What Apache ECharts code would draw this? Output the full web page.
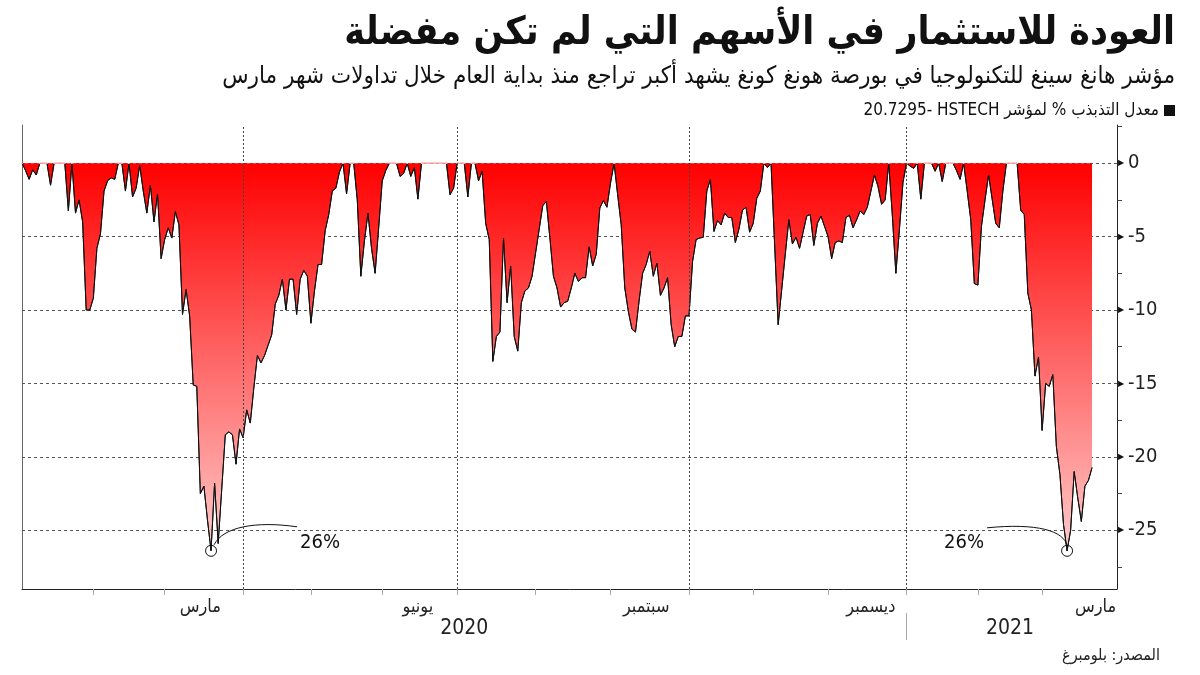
<!DOCTYPE html>
<html>
<head>
<meta charset="utf-8">
<script src="https://cdn.jsdelivr.net/npm/echarts@6/dist/echarts.min.js"></script>
<style>
html,body{margin:0;padding:0;background:#ffffff;}
#c{width:1200px;height:675px;}
</style>
</head>
<body>
<div id="c"></div>
<script>
// ---------------- texts ----------------
const titleText = 'العودة للاستثمار في الأسهم التي لم تكن مفضلة';
const subtitleText = 'مؤشر هانغ سينغ للتكنولوجيا في بورصة هونغ كونغ يشهد أكبر تراجع منذ بداية العام خلال تداولات شهر مارس';
const legendText = '20.7295- HSTECH معدل التذبذب % لمؤشر';
const sourceText = 'المصدر: بلومبرغ';

// ---------------- categories (Hong Kong trading days) ----------------
const firstDay = '2020-01-02';
const lastDay = '2021-03-30';
const holidays = ['2020-01-01','2020-01-27','2020-01-28','2020-04-10','2020-04-13','2020-04-30',
  '2020-05-01','2020-06-25','2020-07-01','2020-10-01','2020-10-02','2020-10-13','2020-10-26',
  '2020-12-25','2021-01-01','2021-02-12','2021-02-15'];

// ---------------- series values: drawdown from peak, % ----------------
const drawdown = [
  0, -0.5, -1.1, -0.45, -0.8, 0, 0, 0, -1.5, 0,
  0, 0, 0, -3.25, 0, -3.4, -2.5, -4.0, -10.0, -10.0,
  -9.2, -5.8, -4.8, -1.9, -1.2, -1.0, -1.1, 0, 0, -1.9,
  0, -2.3, -1.7, -0.15, -1.9, -3.4, -1.5, -4.0, -2.1, -6.5,
  -5.2, -4.4, -5.1, -3.3, -4.2, -10.3, -8.6, -10.4, -15.1, -15.2,
  -22.5, -22.0, -24.3, -26.4, -21.8, -25.9, -22.2, -18.5, -18.3, -18.5,
  -20.5, -18.1, -18.7, -16.8, -17.7, -15.3, -13.1, -13.6, -13.1, -12.4,
  -11.7, -9.6, -9.0, -7.9, -10.0, -7.9, -7.9, -10.3, -7.9, -7.3,
  -7.7, -10.9, -8.7, -6.9, -6.9, -4.6, -3.5, -1.9, -1.7, -0.6,
  0, -2.1, 0, 0, -2.5, -7.7, -5.3, -3.4, -5.8, -7.5,
  -4.4, -1.2, -0.5, 0, 0, 0, -0.9, -0.7, 0, -0.9,
  -0.3, -2.45, 0, 0, 0, 0, 0, 0, 0, 0,
  -2.15, -1.7, 0, 0, 0, -2.3, 0, 0, -1.2, -0.55,
  -4.1, -5.2, -13.5, -11.8, -11.5, -5.1, -9.5, -7.0, -11.8, -12.8,
  -9.5, -8.7, -8.5, -7.7, -6.1, -4.5, -2.9, -2.6, -5.1, -7.7,
  -8.5, -9.8, -9.5, -9.4, -8.5, -7.5, -8.05, -7.8, -7.8, -5.7,
  -7.0, -6.2, -3.05, -2.55, -3.0, -1.35, 0, -2.15, -4.2, -8.5,
  -10.1, -11.3, -11.5, -9.4, -7.5, -6.9, -6.0, -7.7, -6.8, -9.0,
  -8.5, -7.8, -11.0, -12.5, -11.8, -11.8, -10.4, -10.4, -6.7, -5.2,
  -5.1, -5.05, -1.9, -1.1, -4.65, -3.9, -4.2, -3.4, -3.7, -3.7,
  -5.4, -4.5, -3.2, -3.0, -4.7, -4.1, -2.4, -1.9, 0, -0.3,
  0, -5.5, -11.0, -8.6, -6.2, -3.85, -5.5, -5.05, -5.8, -4.7,
  -3.6, -3.5, -5.6, -4.1, -3.6, -4.3, -5.0, -6.5, -5.4, -5.3,
  -5.4, -3.7, -3.55, -4.4, -3.85, -3.25, -3.5, -3.0, -1.9, -0.8,
  -1.6, -2.8, -2.5, 0, -3.5, -7.5, -4.5, -1.3, 0, -0.2,
  -0.35, 0, -2.45, 0, 0, 0, -0.55, 0, -1.25, 0,
  0, 0, -0.5, -1.1, 0, -1.9, -3.85, -8.2, -8.3, -4.3,
  -2.5, -0.8, -2.45, -4.1, -4.4, -1.9, 0, 0, 0, 0,
  -3.2, -3.5, -8.85, -10.0, -14.5, -13.2, -18.2, -15.0, -15.2, -14.4,
  -19.3, -21.2, -24.6, -26.4, -25.0, -21.0, -22.8, -24.4, -22.0, -21.6,
  -20.7295
];

// ---------------- tick labels / annotations ----------------
const monthLabelDates = ['2020-03-16','2020-06-15','2020-09-15','2020-12-17','2021-03-22'];
const monthLabelTexts = ['مارس','يونيو','سبتمبر','ديسمبر','مارس'];
const yearLabelDates = ['2020-07-06','2021-02-16'];
const yearLabelTexts = ['2020','2021'];
const quarterStartDates = ['2020-04-01','2020-07-02','2020-10-05','2021-01-04'];
const yGridValues = [0, -5, -10, -15, -20, -25];
const lowDates = ['2020-03-19','2021-03-10'];
const lowLabels = ['26%','26%'];

// ---------------- build categories ----------------
const dates = [];
(function(){
  const hol = new Set(holidays);
  const p = s => { const a = s.split('-').map(Number); return Date.UTC(a[0], a[1]-1, a[2]); };
  const end = p(lastDay);
  for (let t = p(firstDay); t <= end; t += 86400000) {
    const d = new Date(t);
    const wd = d.getUTCDay();
    const s = d.toISOString().slice(0,10);
    if (wd === 0 || wd === 6 || hol.has(s)) continue;
    dates.push(s);
  }
})();
const idxOf = d => dates.indexOf(d);
const monthStartIdx = new Set();
for (let i = 1; i < dates.length; i++) if (dates[i].slice(0,7) !== dates[i-1].slice(0,7)) monthStartIdx.add(i);
const monthLabelMap = {}; monthLabelDates.forEach((d,k) => { monthLabelMap[idxOf(d)] = monthLabelTexts[k]; });
const yearLabelMap = {}; yearLabelDates.forEach((d,k) => { yearLabelMap[idxOf(d)] = yearLabelTexts[k]; });
const yearStartIdx = dates.findIndex(d => d.startsWith('2021'));

const AR = "'DejaVu Sans Condensed','DejaVu Sans',sans-serif";
const NUM = "'Liberation Sans Narrow','DejaVu Sans Condensed','DejaVu Sans',sans-serif";

const chart = echarts.init(document.getElementById('c'), null, {renderer: 'canvas', width: 1200, height: 675});

const option = {
  animation: false,
  backgroundColor: '#ffffff',
  title: [
    {text: titleText, right: 20, top: 9, textStyle: {fontSize: 39, fontWeight: 'bold', color: '#111', fontFamily: AR}},
    {text: subtitleText, right: 20, top: 60, textStyle: {fontSize: 24, fontWeight: 'normal', color: '#111', fontFamily: AR}},
    {text: sourceText, right: 35, top: 643, textStyle: {fontSize: 16, fontWeight: 'normal', color: '#222', fontFamily: AR}}
  ],
  legend: {
    right: 20, top: 97, align: 'right', itemWidth: 11, itemHeight: 11, selectedMode: false,
    textStyle: {fontSize: 17, color: '#111', fontFamily: AR},
    data: [{name: legendText, icon: 'rect', itemStyle: {color: '#111'}}]
  },
  grid: {left: 22, right: 83, top: 125, bottom: 86},
  xAxis: [
    {
      type: 'category', data: dates, boundaryGap: false,
      axisLine: {onZero: false, lineStyle: {color: '#222', width: 1}},
      axisTick: {show: true, interval: i => monthStartIdx.has(i), length: 6, lineStyle: {color: '#aaa'}},
      axisLabel: {interval: i => (i in monthLabelMap), formatter: (v, i) => monthLabelMap[i] || '',
        fontSize: 18, color: '#222', margin: 9, fontFamily: AR},
      splitLine: {show: false}
    },
    {
      type: 'category', data: dates, boundaryGap: false, position: 'bottom', offset: 24,
      axisLine: {show: false, onZero: false},
      axisTick: {show: true, interval: i => i === yearStartIdx, length: 27, lineStyle: {color: '#aaa'}},
      axisLabel: {interval: i => (i in yearLabelMap), formatter: (v, i) => yearLabelMap[i] || '',
        fontSize: 21, color: '#222', margin: 5, fontFamily: NUM},
      splitLine: {show: false}
    }
  ],
  yAxis: [
    {
      type: 'value', position: 'right', min: -29, max: 2.6, splitNumber: 6,
      axisLine: {show: true, lineStyle: {color: '#222'}},
      axisTick: {show: false},
      minorTick: {show: true, splitNumber: 2, length: 5, lineStyle: {color: '#444'}},
      splitLine: {show: false},
      axisLabel: {showMinLabel: false, showMaxLabel: false, margin: 1,
        formatter: v => '{t|\u25B6}{n|' + v + '}',
        rich: {t: {fontSize: 8, color: '#111', padding: [0, 4, 0, 0]}, n: {fontSize: 20, color: '#222', fontFamily: NUM}}}
    },
    {
      type: 'value', position: 'left', min: -29, max: 2.6,
      axisLine: {show: true, lineStyle: {color: '#666'}},
      axisTick: {show: false}, axisLabel: {show: false}, splitLine: {show: false}
    }
  ],
  visualMap: {show: false, type: 'piecewise', seriesIndex: 1, dimension: 1,
    pieces: [{min: -0.05, max: 3, color: '#ffa0a0'}, {min: -30, max: -0.05, color: '#111'}]},
  series: [
    {
      type: 'line', data: dates.map(() => null), silent: true, z: 1, symbol: 'none',
      lineStyle: {opacity: 0},
      markLine: {silent: true, symbol: ['none', 'none'], label: {show: false}, z: 1,
        lineStyle: {color: '#555', type: [3, 3], width: 1},
        data: yGridValues.map(v => ({yAxis: v}))}
    },
    {
      name: legendText, type: 'line', data: drawdown, symbol: 'none', showSymbol: false, z: 10,
      lineStyle: {width: 1},
      areaStyle: {opacity: 1, color: new echarts.graphic.LinearGradient(0, 0, 0, 1, [
        {offset: 0, color: '#ff0000'}, {offset: 1, color: '#ffcaca'}])},
      markLine: {silent: true, symbol: ['none', 'none'], label: {show: false}, z: 20,
        lineStyle: {color: '#444', type: [2, 2], width: 1},
        data: quarterStartDates.map(d => ({xAxis: d}))},
      markPoint: {silent: true, symbol: 'circle', symbolSize: 11, z: 30,
        itemStyle: {color: 'rgba(255,255,255,0)', borderColor: '#111', borderWidth: 1},
        label: {show: false},
        data: lowDates.map(d => ({coord: [d, drawdown[idxOf(d)]]}))}
    }
  ]
};
chart.setOption(option);

// annotations anchored to the low points
const annDir = [1, -1];
const graphics = [];
lowDates.forEach((d, k) => {
  const i = idxOf(d);
  const p = chart.convertToPixel({xAxisIndex: 0, yAxisIndex: 0}, [i, drawdown[i]]);
  const s = annDir[k];
  const x = p[0], y = p[1];
  if (s > 0) {
    graphics.push({type: 'bezierCurve', silent: true, z: 100,
      shape: {x1: x + 3, y1: y - 6, cpx1: x + 12, cpy1: y - 24, cpx2: x + 45, cpy2: y - 30, x2: x + 86, y2: y - 24},
      style: {stroke: '#111', lineWidth: 1, fill: null}});
    graphics.push({type: 'text', silent: true, z: 100, x: x + 89, y: y - 8,
      style: {text: lowLabels[k], fontSize: 20, fontFamily: NUM, fill: '#111', align: 'left', verticalAlign: 'middle'}});
  } else {
    graphics.push({type: 'bezierCurve', silent: true, z: 100,
      shape: {x1: x, y1: y - 5, cpx1: x - 3, cpy1: y - 20, cpx2: x - 30, cpy2: y - 28, x2: x - 80, y2: y - 23},
      style: {stroke: '#111', lineWidth: 1, fill: null}});
    graphics.push({type: 'text', silent: true, z: 100, x: x - 83, y: y - 8,
      style: {text: lowLabels[k], fontSize: 20, fontFamily: NUM, fill: '#111', align: 'right', verticalAlign: 'middle'}});
  }
});
chart.setOption({graphic: graphics});
</script>
</body>
</html>
